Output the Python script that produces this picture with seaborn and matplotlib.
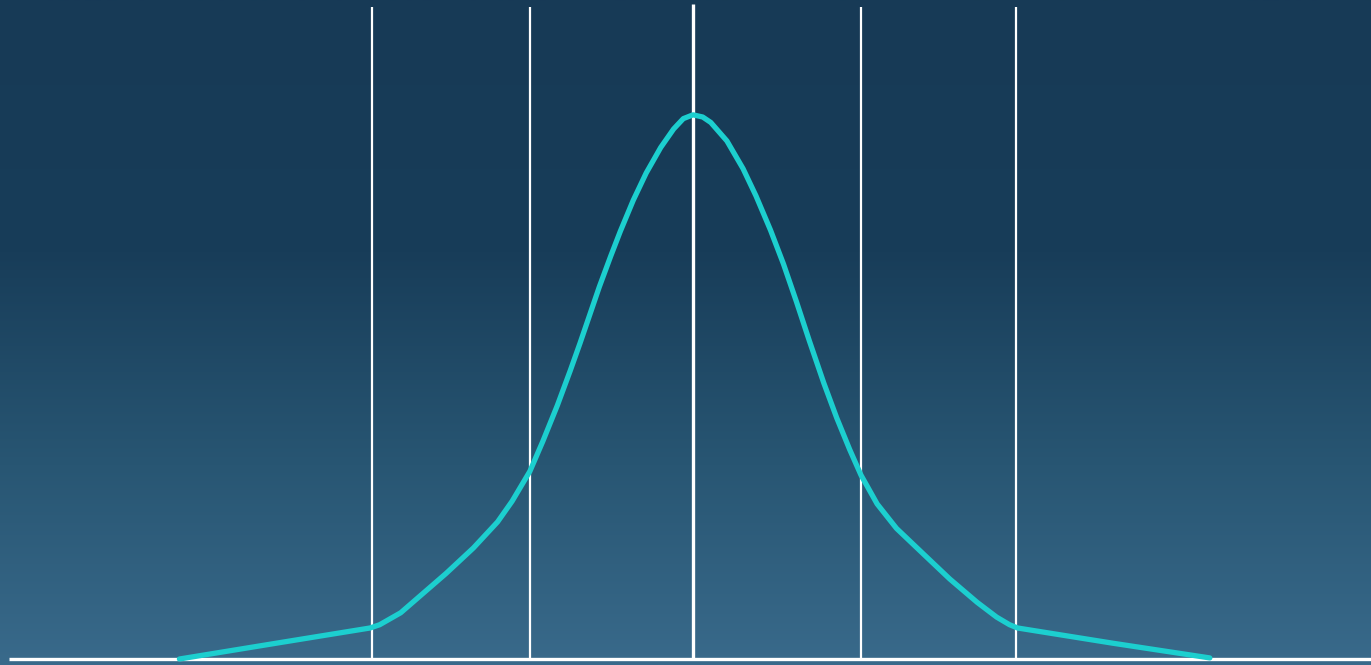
import numpy as np
import pandas as pd
import matplotlib
matplotlib.use("Agg")
import matplotlib.pyplot as plt
import seaborn as sns
from matplotlib.colors import LinearSegmentedColormap

# Curve: x in standard deviations, y relative to peak
curve_x = [-3.18, -2.54, -2.00, -1.94, -1.81, -1.67, -1.53, -1.36, -1.21, -1.12,
           -1.01, -0.93, -0.84, -0.76, -0.70, -0.64, -0.58, -0.51, -0.45, -0.37,
           -0.29, -0.20, -0.12, -0.06, 0.0, 0.06, 0.11, 0.21, 0.31, 0.39, 0.48,
           0.56, 0.64, 0.72, 0.81, 0.89, 0.97, 1.04, 1.14, 1.26, 1.43, 1.59,
           1.76, 1.88, 1.96, 2.01, 2.60, 3.20]
curve_y = [0.0, 0.031, 0.057, 0.063, 0.085, 0.121, 0.157, 0.204, 0.252, 0.290,
           0.345, 0.400, 0.466, 0.530, 0.580, 0.632, 0.684, 0.740, 0.786, 0.843,
           0.893, 0.940, 0.974, 0.993, 1.0, 0.996, 0.986, 0.952, 0.901, 0.851, 0.788,
           0.726, 0.657, 0.585, 0.507, 0.443, 0.385, 0.338, 0.285, 0.240, 0.192, 0.147,
           0.104, 0.077, 0.063, 0.057, 0.029, 0.002]

# vertical marker lines (sigma positions)
sigma_lines = [-1.99, -1.01, 1.04, 2.0]
mean_line = 0.0

sns.set_style("white")

fig = plt.figure(figsize=(13.71, 6.65), dpi=100)
ax = fig.add_axes([0, 0, 1, 1])

xmin, xmax = -4.291, 4.198
ymin, ymax = -0.011, 1.211
ax.set_xlim(xmin, xmax)
ax.set_ylim(ymin, ymax)

# background gradient, dark at top
cmap = LinearSegmentedColormap.from_list(
    "bg", [(0.0, "#173a56"), (0.38, "#183d59"), (0.7, "#285673"), (1.0, "#396a8b")])
grad = np.linspace(0, 1, 256).reshape(-1, 1)
ax.imshow(grad, cmap=cmap, extent=[xmin, xmax, ymin, ymax], aspect="auto",
          origin="upper", zorder=0)

# white verticals
ax.vlines(sigma_lines, 0, 1.199, color="white", lw=1.6, zorder=2)
ax.vlines(mean_line, 0, 1.203, color="white", lw=2.4, zorder=2)

# baseline
ax.hlines(0, -4.235, xmax, color="white", lw=2.4, zorder=2)

df = pd.DataFrame({"x": curve_x, "y": curve_y})
sns.lineplot(data=df, x="x", y="y", ax=ax, color="#1ccfcf", lw=3.8,
             solid_capstyle="round", solid_joinstyle="round", zorder=3)

ax.set_axis_off()
fig.savefig("out.png", dpi=100)
